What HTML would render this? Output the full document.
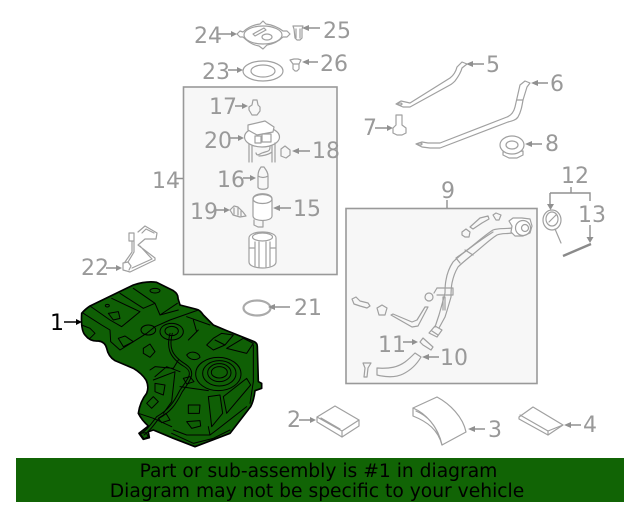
<!DOCTYPE html>
<html><head><meta charset="utf-8">
<style>
html,body{margin:0;padding:0;background:#fff;width:640px;height:512px;overflow:hidden}
svg{display:block}
text{font-family:"DejaVu Sans",sans-serif}
.l{font-size:22px;fill:#999}
.g{fill:none;stroke:#a0a0a0;stroke-width:1.2;stroke-linejoin:round;stroke-linecap:round}
.w{fill:#fff;stroke:#a0a0a0;stroke-width:1.2;stroke-linejoin:round}
.a{stroke:#909090;stroke-width:1.4;fill:none}
.h{fill:#909090}
.k{fill:none;stroke:#000;stroke-width:3;stroke-linejoin:round;stroke-linecap:round}
</style></head><body>
<svg width="640" height="512" viewBox="0 0 640 512" xmlns="http://www.w3.org/2000/svg">
<!-- boxes -->
<rect x="183.500" y="87" width="153.500" height="187.500" fill="#f7f7f7" stroke="#999" stroke-width="1.6"/>
<rect x="346" y="208.500" width="191" height="175" fill="#f7f7f7" stroke="#999" stroke-width="1.6"/>
<path class="a" d="M447 200V208M176 178.500H183"/>

<!-- 24 plate -->
<path class="w" d="M237 34L240 31L243 32C247 28 252 25 260 24L263 21L266 24C274 25 279 28 283 31L287 31L290 34L287 37L283 37C279 41 274 44 267 45L263 49L259 46C252 45 247 41 243 37L240 37Z"/>
<ellipse class="g" cx="263" cy="35" rx="19" ry="9"/>
<path class="g" d="M253 34L264 28L266 30L255 36Z"/>
<ellipse class="g" cx="267" cy="37" rx="5" ry="3"/>
<!-- 25,26,23 -->
<path class="g" d="M293 26H303L302 29V38L300 40H297L295 38L294 29ZM296 29V38M300 29V38"/>
<path class="g" d="M290 60L294 59H298L301 60L299 64V69L297 71H295L293 69V64ZM293 64H299"/>
<ellipse class="g" cx="263" cy="71" rx="20" ry="10"/><ellipse class="g" cx="263" cy="71" rx="12" ry="6"/>

<!-- 17 -->
<path class="g" d="M253 100L257 100L258 105L260 107V111L257 115H252L249 110V107L252 105Z"/>
<!-- 20 module -->
<ellipse class="w" cx="262" cy="137" rx="17.500" ry="10"/>
<path class="w" d="M248 125L265 121L274 127L273 132L257 135L248 130Z"/>
<path class="g" d="M249 144V162M252 146V162M272 146V162M275 143V162M255 136H261V143H255ZM262 134H271V142H262ZM256 153C257 156 258 155 262 153C267 151 270 152 270 147M259 156C262 156 268 155 272 152"/>
<!-- 18 -->
<path class="g" d="M281 149L285 146L290 150V155L286 158L281 156Z"/>
<!-- 16 -->
<path class="g" d="M258 176C258 172 259 170 261 167H264C266 170 268 172 268 176V187C268 190 258 190 258 187ZM258 176C261 178 265 178 268 176"/>
<!-- 15 -->
<path class="w" d="M253 199C253 192 272 192 272 199V216C272 222 253 222 253 216Z"/>
<ellipse class="g" cx="262.500" cy="199" rx="9.500" ry="4.500"/>
<path class="g" d="M254 220V225L258 227H263V221"/>
<!-- 19 -->
<path class="g" d="M230 210L234 206L238 207L243 212L246 216L240 217L233 215ZM234 208V214M238 208V215M241 211V216"/>
<!-- filter -->
<path class="w" d="M249 238C249 230 276 230 276 238V262C276 270 249 270 249 262Z"/>
<ellipse class="g" cx="262.500" cy="237" rx="10" ry="4"/>
<path class="g" d="M255 242V266M259 242V267M266 242V267M270 242V266M249 248H254M271 248H276"/>

<!-- 5 strap -->
<path class="g" d="M396 104L401 101L410 103L450 78C454 75 456 71 457 67L462 62L467 64L462 68C461 72 458 77 455 81C453 83 452 84 450 85L410 107L403 107Z"/>
<ellipse class="g" cx="400" cy="104" rx="2" ry="1"/>
<!-- 6 strap -->
<path class="g" d="M416 144L422 142L428 143L440 143L507 117C512 115 514 111 515 107L520 85L525 81L530 83L527 87L523 100C522 106 521 112 518 117C516 120 512 121 508 122L440 148L430 148L422 147Z"/>
<ellipse class="g" cx="420" cy="144" rx="2" ry="1"/>
<path class="g" d="M517 100L523 100"/>
<!-- 7 bolt -->
<path class="w" d="M396 115H402V125L406 128V133L402 135H397L393 133V128L396 125Z"/>
<!-- 8 grommet -->
<path class="w" d="M503 152V155L509 158H517L523 155V151Z"/>
<ellipse class="w" cx="512" cy="145" rx="12" ry="9"/>
<ellipse class="g" cx="512" cy="145" rx="6" ry="4"/>

<!-- 12,13 -->
<path class="a" d="M571 187V193M550 193H590V201M550 193V205"/>
<path class="h" d="M547 204h7l-3.500 6z"/>
<ellipse class="w" cx="552" cy="220" rx="9" ry="10"/><ellipse class="g" cx="552" cy="219" rx="6" ry="7"/>
<path class="g" d="M549 222L556 215M555 229L561 243"/>
<path class="a" d="M590 225V238"/><path class="h" d="M586.500 237h7l-3.500 6z"/>
<path d="M563 256L591 244" stroke="#8a8a8a" stroke-width="2.400" fill="none"/>

<!-- 22 -->
<path class="g" d="M129 233H134V241H129ZM132 241V252L125 262M134 241V252L128 262"/>
<path class="g" d="M138 232L145 226L157 233L156 239H145L138 245L155 258V260L130 272L123 270V263L128 262L131 266L129 270M142 233L146 229L154 233M132 268L152 259L140 246"/>

<!-- 21 -->
<ellipse cx="257" cy="308" rx="13.500" ry="7.500" fill="none" stroke="#aaa" stroke-width="2.200"/>

<!-- 9 group parts -->
<path class="g" d="M470 227L480 218L488 216L489 219L482 223L473 229ZM462 232L466 229L470 232L469 237L465 237L462 235ZM493 215L496 213L501 215L499 220H496Z"/>
<path class="g" d="M512 228C505 229 498 228 493 230C485 235 475 244 467 250C462 254 457 258 453 262C449 268 447 274 446 280C445 285 445 290 445 293C443 301 441 308 439 315L435 327"/>
<path class="g" d="M512 233C506 234 502 233 497 235C489 240 480 249 472 255C467 259 462 263 458 267C455 272 453 278 452 283C451 288 451 292 451 297C449 304 447 311 445 317L439 328"/>
<path class="g" d="M493 232C485 237 478 242 470 248C465 252 460 255 456 258M465 250L473 255M456 258L460 263"/>
<path class="g" d="M429 333L435 326L442 330L437 337ZM432 331L438 335"/>
<path class="w" d="M509 221L513 218L522 218L530 219L532 226L530 233L523 236L515 236L511 232L512 226Z"/>
<circle class="g" cx="523" cy="228" r="7.500"/><circle class="g" cx="525" cy="228" r="3.500"/>
<path class="g" d="M437 288H453M437 295H446L453 295M453 288V295M434 293L437 288M443 297V310M445 297V310"/>
<circle class="g" cx="429" cy="297" r="4"/>
<path class="g" d="M352 299L356 297L360 301L368 303L370 306L367 308L360 306L354 304Z"/>
<path class="g" d="M377 308L382 305L387 308L385 315L379 315Z"/>
<path class="g" d="M391 315L393 314L412 322L417 320L425 307H428L418 326L412 327Z"/>
<path class="g" d="M420 342L423 338L433 347L431 350L423 345Z"/>
<path class="g" d="M377 368C390 369 398 367 405 362C409 359 412 356 415 353L421 357C417 364 411 370 403 374C395 378 385 377 377 375Z"/>
<path class="g" d="M363 363H371L368 368L367 377H364L365 368Z"/>

<!-- 2 3 4 -->
<path class="w" d="M317 417L335 406L359 420V426L342 437L317 422Z"/>
<path class="g" d="M317 417L342 431L359 420M342 431V437M321 418L340 429"/>
<path class="w" d="M413 408L437 397C450 404 463 417 466 432L442 445C438 430 428 422 413 416Z"/>
<path class="g" d="M413 408C425 413 438 426 442 445M416 411C428 416 436 426 439 437"/>
<path class="w" d="M519 417L533 407L563 425L548 435L519 419Z"/>
<path class="g" d="M520 415L548 431L563 425M548 431V435"/>

<!-- tank -->
<g transform="translate(40 270) scale(.33333)">
<path d="M125 130Q135 118 150 108L280 45Q320 32 350 37L400 62Q415 72 414 85L420 105L470 118Q480 120 490 135L520 165L560 182L640 214Q652 218 652 230L655 335L665 340L665 355L645 362Q642 390 632 410L570 490L465 530L400 505L340 480L325 485L328 503L310 508L297 490L325 468Q305 450 295 430Q300 395 320 370Q328 350 318 330Q305 310 280 295L225 272Q205 260 200 235Q195 215 175 213Q150 215 135 195Q122 180 125 130Z" fill="#0f5f05" stroke="#000" stroke-width="5" stroke-linejoin="round"/>
<path class="k" d="M130 130L185 165L210 180L212 215L240 240L320 190L345 170L390 150L475 120M150 108L210 150L245 170L300 125L215 85M240 70L310 115L345 100L280 55M345 100L360 135L412 100M360 135L415 120M125 165L150 175L165 190L150 205"/>
<path class="k" d="M205 130L235 125L240 145L220 150ZM235 205L255 198L280 215L250 230ZM310 235L330 222L345 245L330 262L310 250Z"/>
<ellipse class="k" cx="202" cy="107" rx="6" ry="4"/>
<ellipse class="k" cx="345" cy="62" rx="15" ry="7"/>
<ellipse class="k" cx="325" cy="180" rx="22" ry="15"/>
<ellipse class="k" cx="395" cy="185" rx="35" ry="25"/>
<ellipse class="k" cx="395" cy="183" rx="20" ry="14"/>
<path class="k" d="M440 255C455 238 480 250 480 262C470 272 450 272 440 255ZM440 140L510 165M460 150L470 185M445 210L475 180M500 225L520 205L545 190L580 195L555 225L520 240ZM525 210L555 225M560 235L610 205L640 220L620 250Z"/>
<ellipse class="k" cx="535" cy="312" rx="68" ry="50"/>
<ellipse class="k" cx="538" cy="310" rx="50" ry="38"/>
<ellipse class="k" cx="538" cy="308" rx="35" ry="27"/>
<ellipse class="k" cx="538" cy="307" rx="24" ry="17"/>
<path class="k" d="M345 340L375 345L370 375L345 365ZM320 400L340 380L355 395L335 415ZM445 405L480 405L478 430L445 430ZM440 455L480 452L482 468L455 475Z"/>
<path class="k" d="M505 380L540 375L548 430L515 470ZM550 380L620 325L632 345L560 430ZM400 480L440 495L510 495L530 480L620 410M395 490L460 520L520 505L570 480M330 300L345 290L400 295L415 270M345 320L380 290L420 305M295 430L340 445L395 470M420 350L505 362M340 330L405 305L395 395L370 430M505 470L510 495M640 225L640 335L630 400"/>
<path class="k" d="M390 190C380 230 385 260 430 288C460 305 450 320 420 360C400 400 385 420 350 440C335 460 320 480 305 490M397 190C387 230 392 255 437 283C467 303 457 325 427 365C407 405 392 425 357 445C342 465 327 485 312 495"/>
<path class="k" d="M430 325L450 320L462 335L440 342ZM355 445L378 430L390 450L365 458ZM300 490L318 488L325 500L312 506Z"/>
</g>

<!-- arrows -->
<g class="a">
<path d="M218 34H232M305 28H320M228 70H238M318 62H306M235 106H244M230 138H240M310 151H297M243 178H252M291 208H279M216 210H225M106 268H117M273 307H290M484 64H471M548 83H535M375 128H389M542 144H530M403 342H413M439 357H427M299 420H311M485 429H473M581 425H569"/>
</g>
<g class="h">
<path d="M237 34l-6-3v6zM302 28l7-3v6zM243 70l-6-3v6zM302 62l7-3v6zM248 106l-6-3v6zM244 138l-6-3v6zM292 151l7-3v6zM256 178l-6-3v6zM273 208l7-3v6zM230 210l-6-3v6zM122 268l-6-3v6zM268 307l7-3v6zM466 64l7-3v6zM531 83l7-3v6zM393 128l-6-3v6zM525 144l7-3v6zM418 342l-6-3v6zM422 357l7-3v6zM316 420l-6-3v6zM468 429l7-3v6zM564 425l7-3v6z"/>
</g>
<path d="M64 322H78" stroke="#000" stroke-width="1.500"/><path d="M82 322l-6-3v6z" fill="#000"/>

<!-- labels -->
<g class="l">
<text x="194" y="43">24</text><text x="323" y="38">25</text>
<text x="202" y="79">23</text><text x="320" y="71">26</text>
<text x="209" y="114">17</text><text x="204" y="148">20</text>
<text x="312" y="158">18</text><text x="217" y="187">16</text>
<text x="152" y="188">14</text><text x="190" y="219">19</text>
<text x="293" y="216">15</text><text x="81" y="275">22</text>
<text x="294" y="315">21</text><text x="486" y="72">5</text>
<text x="550" y="91">6</text><text x="363" y="135">7</text>
<text x="545" y="151">8</text><text x="441" y="198">9</text>
<text x="561" y="183">12</text><text x="578" y="222">13</text>
<text x="378" y="352">11</text><text x="440" y="365">10</text>
<text x="287" y="427">2</text><text x="488" y="437">3</text>
<text x="583" y="432">4</text>
</g>
<text x="50" y="330" font-size="22" fill="#000">1</text>

<!-- banner -->
<rect x="16" y="458" width="608" height="44" fill="#116405"/>
<text x="318.500" y="477" text-anchor="middle" font-size="18.700" fill="#000">Part or sub-assembly is #1 in diagram</text>
<text x="317" y="497" text-anchor="middle" font-size="18.700" fill="#000">Diagram may not be specific to your vehicle</text>
</svg>
</body></html>
